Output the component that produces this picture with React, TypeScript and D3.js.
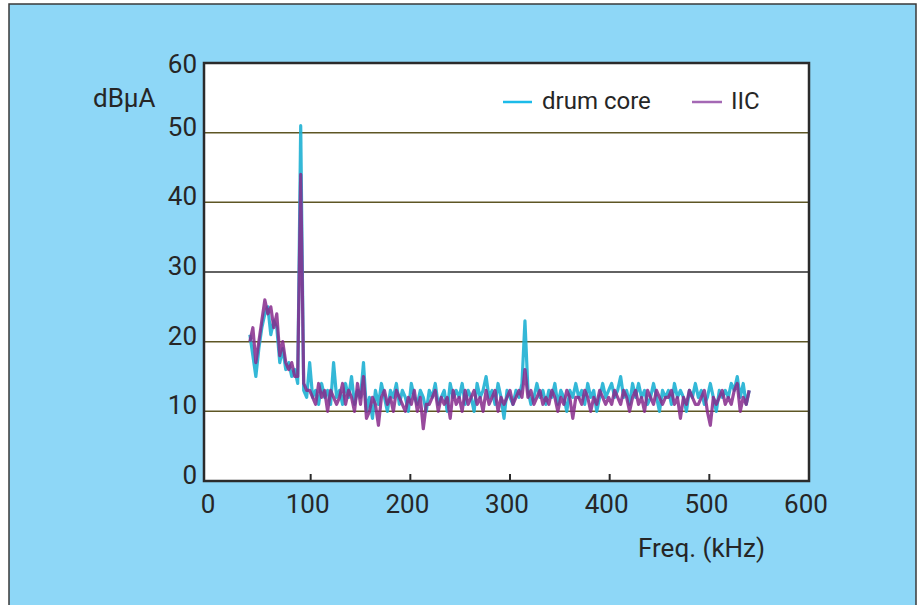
import React from "react";
import * as d3 from "d3";

// ---- data ----
const FREQ_START = 39;
const FREQ_STEP = 3;
const drumCore: number[] = [
  21, 18, 15, 19, 22, 24, 25, 21, 23, 22,
  17, 19, 16, 17, 15, 16, 14, 51, 13, 12,
  17, 12, 13, 11, 14, 12, 13, 11, 17, 12,
  13, 11, 14, 12, 15, 11, 13, 12, 17, 10,
  12, 9, 13, 11, 14, 12, 10, 13, 12, 14,
  11, 13, 12, 10, 14, 12, 11, 13, 12, 10,
  13, 12, 14, 11, 12, 13, 10, 14, 12, 13,
  12, 14, 11, 13, 12, 10, 14, 12, 13, 15,
  12, 13, 11, 14, 12, 9, 13, 12, 11, 13,
  12, 14, 23, 13, 11, 12, 14, 12, 13, 11,
  13, 12, 14, 11, 13, 12, 10, 13, 12, 14,
  12, 13, 11, 14, 12, 13, 10, 12, 14, 12,
  13, 14, 12, 13, 15, 12, 13, 11, 14, 12,
  14, 12, 13, 11, 12, 14, 12, 10, 13, 12,
  13, 11, 14, 12, 13, 12, 10, 13, 12, 14,
  12, 13, 11, 12, 14, 12, 10, 13, 12, 13,
  12, 14, 13, 15, 12, 14, 11, 13,
];
const iic: number[] = [
  20, 22, 17, 20, 23, 26, 24, 25, 22, 24,
  18, 20, 17, 16, 17, 15, 15, 44, 14, 13,
  13, 12, 11, 14, 12, 13, 10, 13, 12, 11,
  12, 14, 11, 13, 12, 10, 14, 11, 15, 9,
  10, 12, 11, 8, 12, 13, 11, 12, 10, 13,
  12, 11, 10, 12, 11, 13, 10, 12, 7.5, 11,
  11, 12, 13, 10, 12, 11, 12, 9, 13, 11,
  12, 10, 13, 11, 12, 13, 11, 12, 10, 13,
  11, 12, 13, 10, 12, 11, 12, 13, 11, 12,
  13, 12, 16, 12, 13, 11, 12, 13, 11, 12,
  11, 13, 12, 10, 12, 11, 13, 12, 9, 12,
  12, 11, 13, 12, 10, 12, 11, 13, 12, 11,
  12, 11, 13, 12, 11, 13, 12, 10, 12, 13,
  11, 12, 10, 13, 12, 11, 13, 12, 11, 12,
  12, 13, 11, 12, 9, 12, 11, 13, 12, 11,
  11, 12, 13, 10, 8, 12, 11, 12, 13, 11,
  12, 11, 13, 14, 10, 12, 11, 13,
];
const xTicks = [0, 100, 200, 300, 400, 500, 600];
const yTicks = [0, 10, 20, 30, 40, 50, 60];
const gridValues = [10, 20, 30, 40, 50];
const seriesNames = ["drum core", "IIC"];
const yLabel = "dBµA";
const xLabel = "Freq. (kHz)";

const W = 919;
const H = 605;
const FONT = "Roboto, 'Liberation Sans', sans-serif";

export default function App() {
  const x = d3.scaleLinear().domain([0, 600]).range([211, 809]);
  const y = d3.scaleLinear().domain([0, 60]).range([481, 63]);
  const plotLeft = 204;
  const plotRight = 809;
  const plotTop = y(60);
  const plotBottom = y(0);

  const freqs = drumCore.map((_, i) => FREQ_START + i * FREQ_STEP);
  const line = d3
    .line<number>()
    .x((_, i) => x(freqs[i]))
    .y((d) => y(d))
    .curve(d3.curveLinear);

  const traceColors = ["#1fb0d3", "#862a8c"];
  const legendColors = ["#1cbbe9", "#a468b4"];

  return (
    <svg
      width={W}
      height={H}
      style={{ position: "absolute", left: 0, top: 0, display: "block" }}
      fontFamily={FONT}
    >
      <defs>
        <filter id="soft" x="-5%" y="-5%" width="110%" height="110%">
          <feGaussianBlur stdDeviation="0.5" />
        </filter>
      </defs>
      <rect x={0} y={0} width={W} height={H} fill="#ffffff" />
      <rect x={9} y={4} width={907} height={H} fill="#8ed7f7" stroke="#3a3a3a" strokeWidth={1.5} />
      {/* plot area */}
      <rect x={plotLeft} y={plotTop} width={plotRight - plotLeft} height={plotBottom - plotTop} fill="#ffffff" />
      {gridValues.map((v) => (
        <line
          key={v}
          x1={plotLeft}
          x2={plotRight}
          y1={y(v)}
          y2={y(v)}
          stroke={v === 30 ? "#2e2e2e" : "#5e5624"}
          strokeWidth={1.5}
        />
      ))}
      {/* traces */}
      <g filter="url(#soft)">
        <path d={line(drumCore) || ""} fill="none" stroke={traceColors[0]} strokeWidth={3.2} strokeLinejoin="round" opacity={0.9} />
        <path d={line(iic) || ""} fill="none" stroke={traceColors[1]} strokeWidth={3.2} strokeLinejoin="round" opacity={0.85} />
      </g>
      {/* frame */}
      <rect
        x={plotLeft}
        y={plotTop}
        width={plotRight - plotLeft}
        height={plotBottom - plotTop}
        fill="none"
        stroke="#2b2b2b"
        strokeWidth={2.5}
      />
      {xTicks
        .filter((t) => t > 0 && t < 600)
        .map((t) => (
          <line key={t} x1={x(t)} x2={x(t)} y1={plotBottom} y2={plotBottom - 7} stroke="#2b2b2b" strokeWidth={2} />
        ))}
      {xTicks.map((t) => (
        <text key={t} x={x(t) - 3} y={513} textAnchor="middle" fontSize={26} fill="#262626">
          {t}
        </text>
      ))}
      {yTicks.map((t) => (
        <text
          key={t}
          x={197}
          y={Math.max(y(t) + 3, plotTop + 10)}
          textAnchor="end"
          fontSize={26}
          fill="#262626"
        >
          {t}
        </text>
      ))}
      <text x={93} y={107} fontSize={26} fill="#262626">
        {yLabel}
      </text>
      <text x={638} y={557} fontSize={26} fill="#262626">
        {xLabel}
      </text>
      {/* legend */}
      <line x1={503} x2={532} y1={102} y2={102} stroke={legendColors[0]} strokeWidth={2.5} />
      <text x={542} y={109} fontSize={24} fill="#262626">
        {seriesNames[0]}
      </text>
      <line x1={692} x2={722} y1={102} y2={102} stroke={legendColors[1]} strokeWidth={2.5} />
      <text x={731} y={109} fontSize={24} fill="#262626">
        {seriesNames[1]}
      </text>
    </svg>
  );
}
